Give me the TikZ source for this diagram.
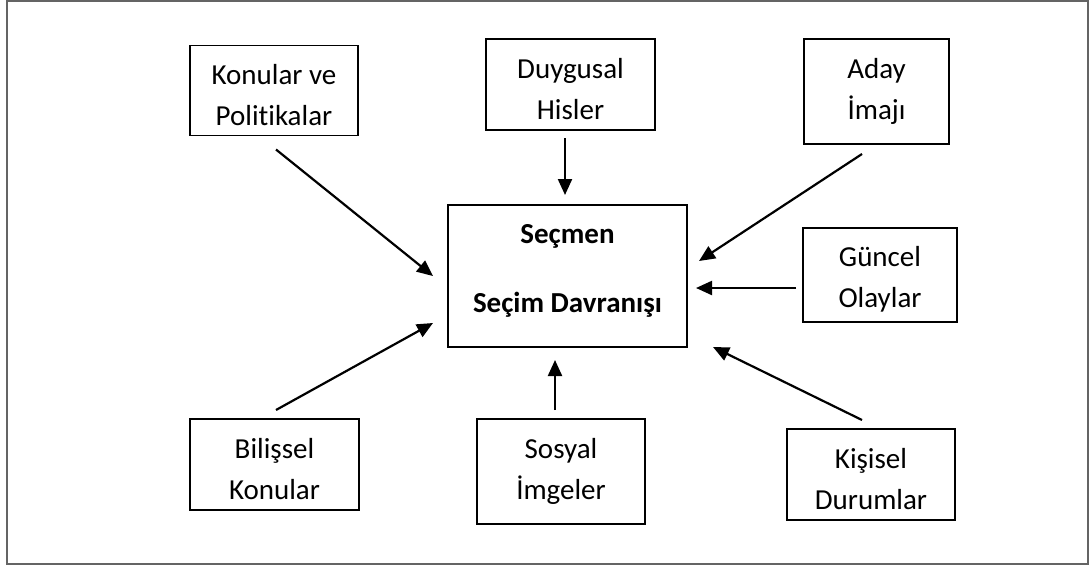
\documentclass[tikz,border=0pt]{standalone}
\usepackage{fontspec}
\setmainfont{Carlito}[Ligatures={NoCommon}]
\usetikzlibrary{arrows.meta}
\definecolor{framegray}{RGB}{100,100,100}
\begin{document}
\begin{tikzpicture}[x=1pt,y=-1pt,
  box/.style={draw=black, line width=1.8pt, rectangle, inner sep=0pt, outer sep=0pt},
  lbl/.style={anchor=north, align=center, inner sep=0pt, outer sep=0pt,
              font=\fontsize{29}{41}\selectfont},
  arr/.style={line width=2.2pt, -{Triangle[length=16pt,width=14pt]}}]
\useasboundingbox (0,0) rectangle (1089,565);
% outer frame
\draw[line width=2pt, draw=framegray] (6.5,0.8) rectangle (1087.5,563.5);

% central box
\node[box, minimum width=239pt, minimum height=142pt] (sv) at (567.5,276) {};
\node[lbl, font=\bfseries\fontsize{29}{69}\selectfont] (svt) at ([shift={(0,13)}]sv.north)
  {\rule{0pt}{25pt}Seçmen\\Seçim Davranışı};

% surrounding factors
\node[box, minimum width=168pt, minimum height=90pt]  (kp) at (274,90.5) {};
\node[lbl] (kpt) at ([shift={(0,14)}]kp.north) {\rule{0pt}{25pt}Konular ve\\Politikalar};

\node[box, minimum width=169pt, minimum height=91pt]  (dh) at (570.5,84.5) {};
\node[lbl] (dht) at ([shift={(0,14)}]dh.north) {\rule{0pt}{25pt}Duygusal\\Hisler};

\node[box, minimum width=145pt, minimum height=105pt] (ai) at (876.5,91.5) {};
\node[lbl] (ait) at ([shift={(0,14)}]ai.north) {\rule{0pt}{25pt}Aday\\İmajı};

\node[box, minimum width=154pt, minimum height=94pt]  (go) at (880,275) {};
\node[lbl] (got) at ([shift={(0,13)}]go.north) {\rule{0pt}{25pt}Güncel\\Olaylar};

\node[box, minimum width=168pt, minimum height=91pt]  (kd) at (871,474.5) {};
\node[lbl] (kdt) at ([shift={(0,14)}]kd.north) {\rule{0pt}{25pt}Kişisel\\Durumlar};

\node[box, minimum width=169pt, minimum height=91pt]  (bk) at (274.5,464.5) {};
\node[lbl] (bkt) at ([shift={(0,14)}]bk.north) {\rule{0pt}{25pt}Bilişsel\\Konular};

\node[box, minimum width=168pt, minimum height=105pt] (si) at (561,471.5) {};
\node[lbl] (sit) at ([shift={(0,14)}]si.north) {\rule{0pt}{25pt}Sosyal\\İmgeler};

% influences on voting behaviour
\draw[arr] ([shift={(2,14)}]kp.south)    -- ([shift={(-15,0)}]sv.west);
\draw[arr] ([shift={(-5.5,8)}]dh.south)  -- ([shift={(-2.5,-10)}]sv.north);
\draw[arr] ([shift={(-14.5,10)}]ai.south) -- ([shift={(12,-15)}]sv.east);
\draw[arr] ([shift={(-7,13)}]go.west)    -- ([shift={(9,12)}]sv.east);
\draw[arr] ([shift={(-9,-9)}]kd.north)   -- ([shift={(26,0)}]sv.south east);
\draw[arr] ([shift={(-6,-9)}]si.north)   -- ([shift={(-12.5,13)}]sv.south);
\draw[arr] ([shift={(1.5,-9)}]bk.north)  -- ([shift={(-15,47)}]sv.west);
\end{tikzpicture}
\end{document}
